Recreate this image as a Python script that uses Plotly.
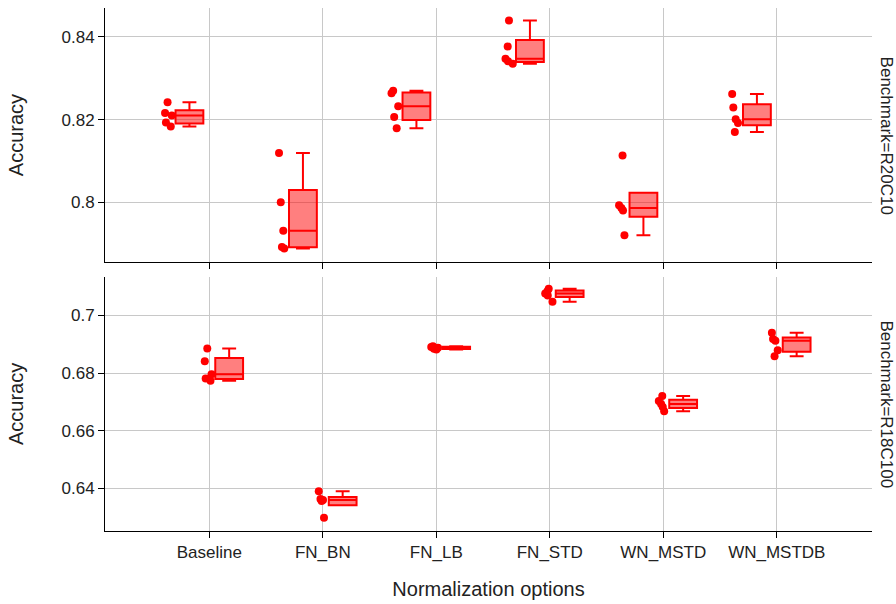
import plotly.graph_objects as go
from plotly.subplots import make_subplots

# Normalization options on the x axis
options = ["Baseline", "FN_BN", "FN_LB", "FN_STD", "WN_MSTD", "WN_MSTDB"]

# Accuracy of the five runs per option, benchmark R20C10
r20c10_baseline = [0.8242, 0.8216, 0.8210, 0.8193, 0.8183]
r20c10_fn_bn = [0.8119, 0.8000, 0.7931, 0.7892, 0.7888]
r20c10_fn_lb = [0.8270, 0.8264, 0.8232, 0.8206, 0.8179]
r20c10_fn_std = [0.8440, 0.8377, 0.8347, 0.8341, 0.8335]
r20c10_wn_mstd = [0.8113, 0.7993, 0.7986, 0.7980, 0.7920]
r20c10_wn_mstdb = [0.8262, 0.8229, 0.8201, 0.8192, 0.8170]

# Accuracy of the five runs per option, benchmark R18C100
r18c100_baseline = [0.6885, 0.6841, 0.6796, 0.6781, 0.6773]
r18c100_fn_bn = [0.6391, 0.6364, 0.6360, 0.6357, 0.6299]
r18c100_fn_lb = [0.6893, 0.6890, 0.6887, 0.6884, 0.6881]
r18c100_fn_std = [0.7092, 0.7083, 0.7075, 0.7068, 0.7047]
r18c100_wn_mstd = [0.6720, 0.6703, 0.6693, 0.6682, 0.6668]
r18c100_wn_mstdb = [0.6939, 0.6918, 0.6912, 0.6879, 0.6858]

benchmarks = ["R20C10", "R18C100"]
runs = {
    "R20C10": [r20c10_baseline, r20c10_fn_bn, r20c10_fn_lb,
               r20c10_fn_std, r20c10_wn_mstd, r20c10_wn_mstdb],
    "R18C100": [r18c100_baseline, r18c100_fn_bn, r18c100_fn_lb,
                r18c100_fn_std, r18c100_wn_mstd, r18c100_wn_mstdb],
}

FONT = "Liberation Sans, Arial, sans-serif"
RED = "red"

fig = make_subplots(rows=2, cols=1, shared_xaxes=True, vertical_spacing=0.028)

for row, bench in enumerate(benchmarks, start=1):
    xs, ys = [], []
    for opt, vals in zip(options, runs[bench]):
        xs += [opt] * len(vals)
        ys += vals
    fig.add_trace(
        go.Box(
            x=xs, y=ys, name=bench,
            boxpoints="all",
            line=dict(color=RED, width=2),
            fillcolor="rgba(255,0,0,0.5)",
            marker=dict(color=RED, size=8),
            showlegend=False,
        ),
        row=row, col=1,
    )

axis_style = dict(
    showline=True, linecolor="black", linewidth=1,
    ticks="outside", ticklen=6, tickcolor="black",
    showgrid=True, gridcolor="#c8c8c8", gridwidth=1,
    zeroline=False,
)

fig.update_xaxes(**axis_style, categoryorder="array", categoryarray=options,
                 range=[-0.919, 5.839])
fig.update_xaxes(title_text="Normalization options", title_standoff=20,
                 automargin=True, row=2, col=1)
fig.update_yaxes(**axis_style, title_text="Accuracy", title_standoff=32,
                 automargin=True)
fig.update_yaxes(range=[0.7855, 0.8470], dtick=0.02, domain=[0.514, 1.0], row=1, col=1)
fig.update_yaxes(range=[0.6253, 0.7133], dtick=0.02, domain=[0.0, 0.486], row=2, col=1)

for bench, ymid in zip(benchmarks, [0.757, 0.243]):
    fig.add_annotation(
        text=f"Benchmark={bench}", textangle=90,
        x=1.0, xref="paper", xanchor="left", xshift=3,
        y=ymid, yref="paper", yanchor="middle",
        showarrow=False,
    )

fig.update_layout(
    width=896, height=604,
    margin=dict(l=105, r=24, t=8, b=73),
    template="simple_white",
    boxmode="group",
    font=dict(family=FONT, size=17, color="#222222"),
    plot_bgcolor="white", paper_bgcolor="white",
)

fig.write_html("out.html")
